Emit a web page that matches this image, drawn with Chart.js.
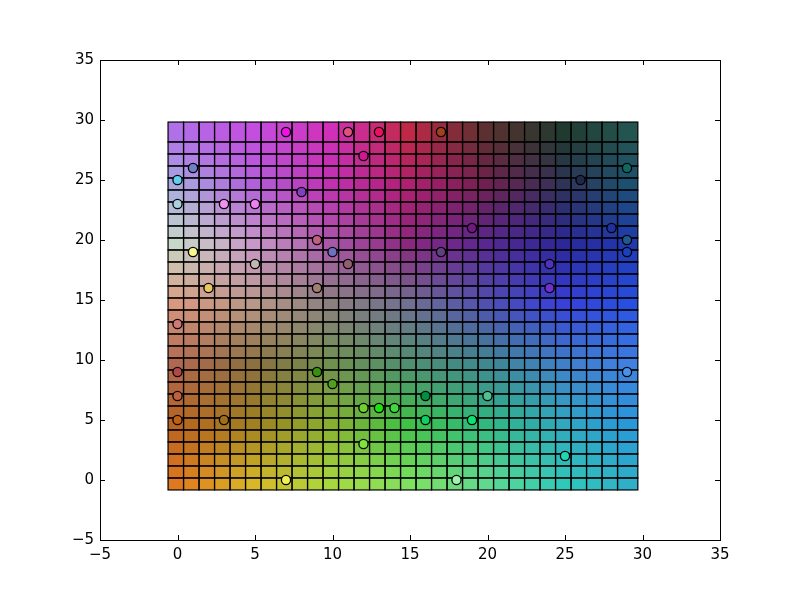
<!DOCTYPE html>
<html>
<head>
<meta charset="utf-8">
<script src="https://cdn.jsdelivr.net/npm/chart.js@4.4.0/dist/chart.umd.min.js"></script>
<style>
  html, body { margin: 0; padding: 0; background: #fff; }
  #wrap { width: 800px; height: 600px; }
</style>
</head>
<body>
<div id="wrap"><canvas id="chart" width="800" height="600"></canvas></div>
<script>
// --- mesh (pcolor style): cell edges along x and y ---
const xEdges = [-0.61, 0.39, 1.39, 2.39, 3.39, 4.39, 5.39, 6.39, 7.39, 8.39, 9.39,
  10.39, 11.39, 12.39, 13.39, 14.39, 15.39, 16.39, 17.39, 18.39, 19.39,
  20.39, 21.39, 22.39, 23.39, 24.39, 25.39, 26.39, 27.39, 28.39, 29.7];
const yEdges = [-0.83, 0.17, 1.17, 2.17, 3.17, 4.17, 5.17, 6.17, 7.17, 8.17, 9.17,
  10.17, 11.17, 12.17, 13.17, 14.17, 15.17, 16.17, 17.17, 18.17, 19.17,
  20.17, 21.17, 22.17, 23.17, 24.17, 25.17, 26.17, 27.17, 28.17, 29.83];

// colour map anchors (rows = y, cols = x)
const anchorX = [0, 5, 10, 15, 20, 25, 29];
const anchorY = [0, 5, 10, 15, 20, 25, 29];
const anchorColors = [
  ["#e07820", "#d8b828", "#a8d840", "#80e060", "#60d890", "#30c8b8", "#30b0c8"], // y=0
  ["#b86420", "#a08020", "#88b030", "#40c048", "#30b880", "#30a8c0", "#2898d8"], // y=5
  ["#b06850", "#8c7040", "#709050", "#509070", "#408890", "#4080c8", "#4080e0"], // y=10
  ["#d89880", "#b89888", "#8a8080", "#707090", "#5050b0", "#3840d8", "#2850e0"], // y=15
  ["#c8d8c8", "#c898c8", "#a858a8", "#8a2880", "#582890", "#2c2898", "#2038b0"], // y=20
  ["#a8a8e0", "#b060d8", "#c030b0", "#b02070", "#702050", "#303358", "#1c5070"], // y=25
  ["#b070e8", "#c44ee0", "#d030b8", "#c02848", "#5c3030", "#203a30", "#245450"]  // y=29
];

// scatter points
const ptX = [7, 11, 13, 17, 12, 1, 29, 0, 26, 8, 0, 3, 5, 19, 28, 29, 9, 1, 10, 17, 29,
  5, 11, 24, 2, 9, 24, 0, 0, 9, 29, 10, 0, 16, 20, 12, 13, 14, 0, 3, 16, 19, 12, 25, 7, 18];
const ptY = [29, 29, 29, 29, 27, 26, 26, 25, 25, 24, 23, 23, 23, 21, 21, 20, 20, 19, 19, 19, 19,
  18, 18, 18, 16, 16, 16, 13, 9, 9, 9, 8, 7, 7, 7, 6, 6, 6, 5, 5, 5, 5, 3, 2, 0, 0];
const ptColors = ["#f010e8", "#e05080", "#f01060", "#a04020", "#d01890", "#7080c8", "#106860",
  "#60d0f0", "#202848", "#8040c0", "#a8d0e0", "#f090f0", "#f080f0", "#701880", "#2030a0",
  "#205890", "#c06080", "#f8f890", "#7070c0", "#604080", "#1840c0", "#c0b8b0", "#906070",
  "#5030c0", "#e8c860", "#a08070", "#7030d0", "#d07878", "#b04848", "#389010", "#4890e8",
  "#50a020", "#c06040", "#009040", "#50c090", "#70d030", "#20e010", "#40d840", "#c06010",
  "#a07018", "#10d060", "#10e070", "#80e040", "#20d8b0", "#f0f050", "#a0f0b0"];

const xTicks = [-5, 0, 5, 10, 15, 20, 25, 30, 35];
const yTicks = [-5, 0, 5, 10, 15, 20, 25, 30, 35];

function hexRgb(h) {
  return [parseInt(h.slice(1, 3), 16), parseInt(h.slice(3, 5), 16), parseInt(h.slice(5, 7), 16)];
}

function seg(arr, v) {
  let k = 0;
  while (k < arr.length - 2 && v > arr[k + 1]) k++;
  const t = Math.max(0, Math.min(1, (v - arr[k]) / (arr[k + 1] - arr[k])));
  return [k, t];
}

// bilinear blend between anchors
function cellColor(cx, cy) {
  const [i, tx] = seg(anchorX, cx);
  const [j, ty] = seg(anchorY, cy);
  const c00 = hexRgb(anchorColors[j][i]), c10 = hexRgb(anchorColors[j][i + 1]);
  const c01 = hexRgb(anchorColors[j + 1][i]), c11 = hexRgb(anchorColors[j + 1][i + 1]);
  const out = [0, 1, 2].map(n => {
    const a = c00[n] * (1 - tx) + c10[n] * tx;
    const b = c01[n] * (1 - tx) + c11[n] * tx;
    return Math.round(a * (1 - ty) + b * ty);
  });
  return `rgb(${out[0]},${out[1]},${out[2]})`;
}

// draw the pcolor mesh through the chart scales
const meshPlugin = {
  id: "mesh",
  beforeDatasetsDraw(chart) {
    const ctx = chart.ctx;
    const xs = chart.scales.x, ys = chart.scales.y;
    ctx.save();
    for (let j = 0; j < yEdges.length - 1; j++) {
      for (let i = 0; i < xEdges.length - 1; i++) {
        const x0 = xs.getPixelForValue(xEdges[i]), x1 = xs.getPixelForValue(xEdges[i + 1]);
        const y0 = ys.getPixelForValue(yEdges[j + 1]), y1 = ys.getPixelForValue(yEdges[j]);
        ctx.fillStyle = cellColor(i, j);
        ctx.fillRect(x0, y0, x1 - x0, y1 - y0);
      }
    }
    ctx.strokeStyle = "#000";
    ctx.lineWidth = 1.2;
    for (let j = 0; j < yEdges.length - 1; j++) {
      for (let i = 0; i < xEdges.length - 1; i++) {
        const x0 = xs.getPixelForValue(xEdges[i]), x1 = xs.getPixelForValue(xEdges[i + 1]);
        const y0 = ys.getPixelForValue(yEdges[j + 1]), y1 = ys.getPixelForValue(yEdges[j]);
        ctx.strokeRect(x0, y0, x1 - x0, y1 - y0);
      }
    }
    ctx.restore();
  }
};

// matplotlib-like frame with inward ticks on all four sides
const framePlugin = {
  id: "frame",
  afterDraw(chart) {
    const ctx = chart.ctx;
    const a = chart.chartArea;
    const xs = chart.scales.x, ys = chart.scales.y;
    ctx.save();
    ctx.strokeStyle = "#000";
    ctx.lineWidth = 1;
    ctx.strokeRect(Math.round(a.left) + 0.5, Math.round(a.top) + 0.5,
      Math.round(a.right - a.left), Math.round(a.bottom - a.top));
    ctx.beginPath();
    xTicks.forEach(v => {
      const p = Math.round(xs.getPixelForValue(v)) + 0.5;
      ctx.moveTo(p, a.bottom); ctx.lineTo(p, a.bottom - 5);
      ctx.moveTo(p, a.top); ctx.lineTo(p, a.top + 5);
    });
    yTicks.forEach(v => {
      const p = Math.round(ys.getPixelForValue(v)) + 0.5;
      ctx.moveTo(a.left, p); ctx.lineTo(a.left + 5, p);
      ctx.moveTo(a.right, p); ctx.lineTo(a.right - 5, p);
    });
    ctx.stroke();
    ctx.restore();
  }
};

const points = ptX.map((x, k) => ({ x: x, y: ptY[k] }));
const fmt = v => String(v).replace("-", "\u2212");

new Chart(document.getElementById("chart"), {
  type: "scatter",
  data: {
    datasets: [{
      data: points,
      backgroundColor: ptColors,
      borderColor: "#000",
      borderWidth: 1.3,
      pointRadius: 4.6,
      pointHoverRadius: 4.6
    }]
  },
  options: {
    responsive: false,
    animation: false,
    events: [],
    layout: { padding: { left: 0, top: 60, right: 80, bottom: 0 } },
    plugins: { legend: { display: false }, tooltip: { enabled: false } },
    scales: {
      x: {
        type: "linear", min: -5, max: 35,
        afterBuildTicks: s => { s.ticks = xTicks.map(v => ({ value: v })); },
        afterFit: s => { s.height = 60; },
        grid: { display: false, drawTicks: false },
        border: { display: false },
        ticks: { color: "#000", padding: 6, font: { family: "DejaVu Sans", size: 15 }, callback: fmt }
      },
      y: {
        type: "linear", min: -5, max: 35,
        afterBuildTicks: s => { s.ticks = yTicks.map(v => ({ value: v })); },
        afterFit: s => { s.width = 100; },
        grid: { display: false, drawTicks: false },
        border: { display: false },
        ticks: { color: "#000", padding: 6, font: { family: "DejaVu Sans", size: 15 }, callback: fmt }
      }
    }
  },
  plugins: [meshPlugin, framePlugin]
});
</script>
</body>
</html>
